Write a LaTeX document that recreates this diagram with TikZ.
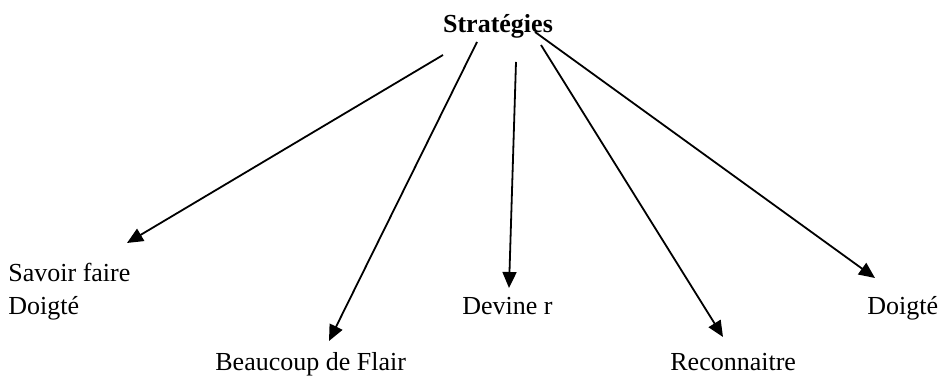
\documentclass[tikz,border=0pt]{standalone}
\usepackage{fontspec}
\setmainfont{Liberation Serif}
\usepackage{tikz}
\usetikzlibrary{arrows.meta, positioning}

\begin{document}
\begin{tikzpicture}[
        x=0.5pt, y=-0.5pt,
        leaf/.style={inner sep=0pt, font=\fontsize{13}{16.5}\selectfont, align=left},
        root/.style={inner sep=0pt, font=\fontsize{13}{16.5}\selectfont\bfseries},
        arrow/.style={-{Triangle[length=8pt, width=7pt]}, line width=0.9pt},
    ]
        \useasboundingbox (0,0) rectangle (939,378);

        % Root
        \node[root, anchor=base] (strat) at (498,33) {Stratégies};

        % Leaves
        \node[leaf, anchor=base west] (savoir) at (8,315) {Savoir faire\\Doigté};
        \node[leaf, anchor=base west] (flair) at (215,371) {Beaucoup de Flair};
        \node[leaf, anchor=base west] (devine) at (462,315) {Devine r};
        \node[leaf, anchor=base west] (recon) at (670,371) {Reconnaitre};
        \node[leaf, anchor=base west] (doigte) at (867,315) {Doigté};

        % Arrow ends
        \coordinate (s1) at (443,55);
        \coordinate (s2) at (477,42);
        \coordinate (s3) at (516,62);
        \coordinate (s4) at (541,45);
        \coordinate (s5) at (535,32);
        \coordinate (t1) at (127,243);
        \coordinate (t2) at (329,341);
        \coordinate (t3) at (509,288);
        \coordinate (t4) at (723,337);
        \coordinate (t5) at (875,278);

        % Arrows
        \draw[arrow] (s1) -- (t1);
        \draw[arrow] (s2) -- (t2);
        \draw[arrow] (s3) -- (t3);
        \draw[arrow] (s4) -- (t4);
        \draw[arrow] (s5) -- (t5);
    \end{tikzpicture}
\end{document}
